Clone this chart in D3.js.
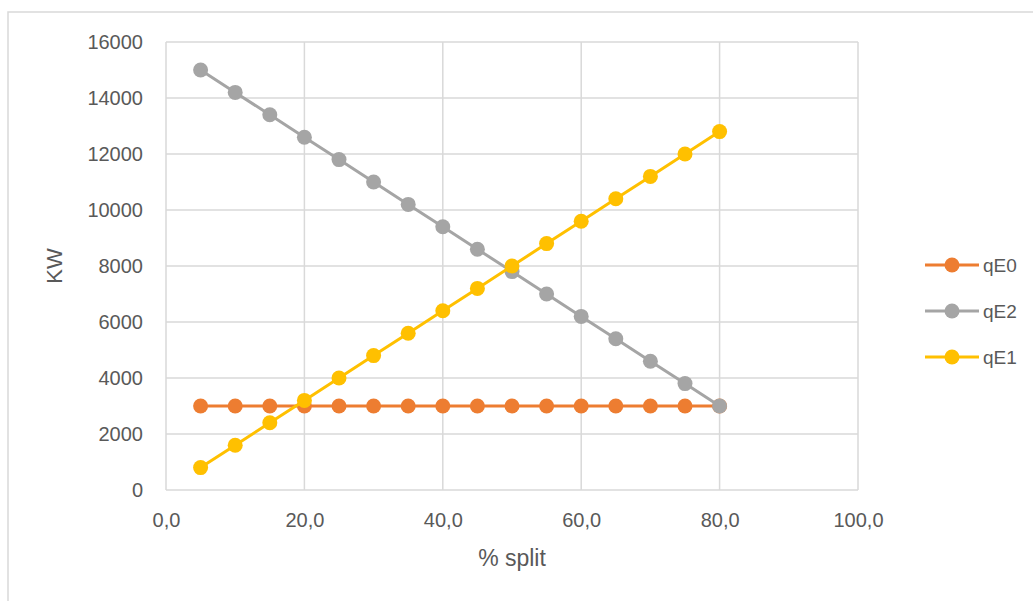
<!DOCTYPE html>
<html>
<head>
<meta charset="utf-8">
<script src="https://cdn.jsdelivr.net/npm/d3@7"></script>
<style>
  body { margin: 0; background: #fff; }
  svg text { font-family: "Liberation Sans", Arial, sans-serif; fill: #595959; }
</style>
</head>
<body>
<svg id="viz" width="1033" height="601"></svg>
<script>
"use strict";
// % split values
const split = [5, 10, 15, 20, 25, 30, 35, 40, 45, 50, 55, 60, 65, 70, 75, 80];
const qE0 = [3000, 3000, 3000, 3000, 3000, 3000, 3000, 3000, 3000, 3000, 3000, 3000, 3000, 3000, 3000, 3000];
const qE2 = [15000, 14200, 13400, 12600, 11800, 11000, 10200, 9400, 8600, 7800, 7000, 6200, 5400, 4600, 3800, 3000];
const qE1 = [800, 1600, 2400, 3200, 4000, 4800, 5600, 6400, 7200, 8000, 8800, 9600, 10400, 11200, 12000, 12800];
const xTicks = [0, 20, 40, 60, 80, 100];
const yTicks = [0, 2000, 4000, 6000, 8000, 10000, 12000, 14000, 16000];

const series = [
  { name: "qE0", values: qE0, color: "#ED7D31" },
  { name: "qE2", values: qE2, color: "#A5A5A5" },
  { name: "qE1", values: qE1, color: "#FFC000" }
];

let svg = d3.select("#viz"), margin = { top: 42, left: 166, bottom: 111, right: 175 };
let w = 1033, h = 601;

// outer chart border
svg.append("rect")
  .attr("x", 8).attr("y", 12)
  .attr("width", 1100).attr("height", 700)
  .attr("fill", "none").attr("stroke", "#D9D9D9").attr("stroke-width", 1.5);

let xScale = d3.scaleLinear().domain([0, 100]).range([margin.left, w - margin.right]);
let yScale = d3.scaleLinear().domain([0, 16000]).range([h - margin.bottom, margin.top]);
let fmt = d3.format(".1f");

// grid
svg.append("g").selectAll("line").data(yTicks).enter().append("line")
  .attr("x1", xScale(0)).attr("x2", xScale(100))
  .attr("y1", d => yScale(d)).attr("y2", d => yScale(d))
  .attr("stroke", "#D9D9D9").attr("stroke-width", 1.5);
svg.append("g").selectAll("line").data(xTicks).enter().append("line")
  .attr("x1", d => xScale(d)).attr("x2", d => xScale(d))
  .attr("y1", yScale(0)).attr("y2", yScale(16000))
  .attr("stroke", "#D9D9D9").attr("stroke-width", 1.5);

// axes
let xAxis = svg.append("g")
  .attr("transform", `translate(0, ${yScale(0)})`)
  .call(d3.axisBottom(xScale).tickValues(xTicks).tickSize(0).tickPadding(23)
    .tickFormat(d => fmt(d).replace(".", ",")));
let yAxis = svg.append("g")
  .attr("transform", `translate(${xScale(0)}, 0)`)
  .call(d3.axisLeft(yScale).tickValues(yTicks).tickSize(0).tickPadding(23).tickFormat(d3.format("d")));
[xAxis, yAxis].forEach(a => {
  a.select(".domain").remove();
  a.selectAll("text").attr("font-size", 20).attr("fill", "#595959").attr("font-family", "Liberation Sans, Arial, sans-serif");
});

// axis titles
svg.append("text")
  .attr("transform", `translate(62, ${(yScale(0) + yScale(16000)) / 2}) rotate(-90)`)
  .attr("text-anchor", "middle")
  .attr("font-size", 22)
  .text("KW");
svg.append("text")
  .attr("x", 512).attr("y", 566)
  .attr("text-anchor", "middle")
  .attr("font-size", 23)
  .text("% split");

// series
let line = d3.line().x((d, i) => xScale(split[i])).y(d => yScale(d));
series.forEach(s => {
  let g = svg.append("g");
  g.append("path")
    .attr("d", line(s.values))
    .attr("fill", "none").attr("stroke", s.color).attr("stroke-width", 3);
  g.selectAll("circle").data(s.values).enter().append("circle")
    .attr("cx", (d, i) => xScale(split[i]))
    .attr("cy", d => yScale(d))
    .attr("r", 7.5)
    .attr("fill", s.color);
});

// legend
let legend = svg.append("g");
series.forEach((s, i) => {
  let y = 265 + i * 46;
  legend.append("line")
    .attr("x1", 925).attr("x2", 979).attr("y1", y).attr("y2", y)
    .attr("stroke", s.color).attr("stroke-width", 3);
  legend.append("circle")
    .attr("cx", 952).attr("cy", y).attr("r", 7.5).attr("fill", s.color);
  legend.append("text")
    .attr("x", 983).attr("y", y).attr("dy", "0.35em")
    .attr("font-size", 19)
    .text(s.name);
});
</script>
</body>
</html>
